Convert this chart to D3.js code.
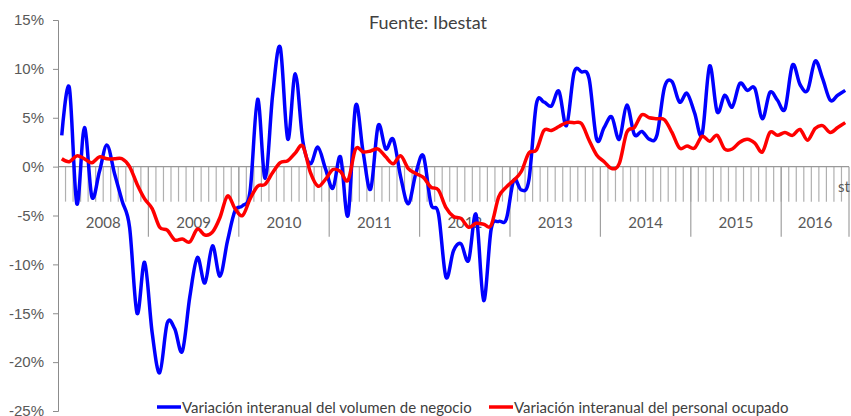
<!DOCTYPE html>
<html>
<head>
<meta charset="utf-8">
<script src="https://d3js.org/d3.v7.min.js"></script>
<style>
  body { margin: 0; background: #fff; }
  svg { font-family: Lato, 'Open Sans', sans-serif; }
  .axis text { fill: #595959; font-size: 15px; }
  .axis path, .axis line { stroke: #8c8c8c; }
</style>
</head>
<body>
<svg width="851" height="416"></svg>
<script>
// years shown on the category axis and how many months each one has
const years = ['2008', '2009', '2010', '2011', '2012', '2013', '2014', '2015', '2016'];
const monthsInYear = [12, 12, 12, 12, 12, 12, 12, 12, 9];

// Variación interanual del volumen de negocio (%)
const volumen = [
  3.2, 8.1, -3.8, 4.0, -3.1, -0.5, 2.2, -0.7, -3.5, -6.2, -15.0, -9.8,
  -17.0, -21.1, -16.0, -16.6, -18.9, -13.3, -9.3, -11.9, -8.1, -11.2, -7.6, -4.5,
  -4.0, -2.5, 6.9, -1.2, 7.4, 12.2, 2.8, 9.5, 2.6, 0.3, 2.0, -0.2,
  -2.2, 1.0, -5.0, 6.2, 1.5, -2.3, 4.2, 1.8, 2.8, -1.1, -3.8, -0.7,
  1.1, -3.8, -4.8, -11.3, -8.6, -7.9, -9.6, -4.9, -13.7, -6.4, -5.6, -5.4,
  -1.4, -2.4, -1.4, 6.4, 6.6, 6.2, 7.7, 4.2, 9.6, 9.7, 9.0, 2.8,
  4.0, 5.1, 2.8, 6.3, 3.3, 3.6, 2.8, 3.2, 8.1, 8.7, 6.6, 7.5,
  5.5, 3.3, 10.3, 5.6, 7.3, 6.1, 8.5, 7.8, 8.0, 4.9, 7.6, 6.8,
  5.9, 10.4, 8.4, 7.8, 10.8, 9.0, 6.8, 7.3, 7.8
];

// Variación interanual del personal ocupado (%)
const personal = [
  0.8, 0.5, 1.1, 0.8, 0.4, 1.0, 0.8, 0.8, 0.8, 0.0, -1.8, -3.3,
  -4.3, -6.2, -6.5, -7.5, -7.4, -7.7, -6.4, -7.0, -6.7, -5.2, -3.0, -4.3,
  -5.0, -3.3, -2.0, -1.8, -0.6, 0.4, 0.6, 1.4, 2.1, -0.6, -2.0, -1.3,
  -0.3, -0.5, -1.4, 1.8, 1.5, 1.6, 1.8, 1.0, 0.3, 1.1, -0.2, -0.7,
  -1.1, -2.1, -2.4, -4.2, -5.1, -5.3, -6.2, -5.8, -5.9, -6.0, -3.1, -2.1,
  -1.4, -0.5, 1.4, 1.7, 3.7, 3.7, 4.1, 4.5, 4.5, 4.4, 2.7, 1.2,
  0.5, -0.2, 0.3, 3.5, 4.0, 5.3, 5.0, 4.9, 4.8, 3.5, 1.9, 2.1,
  1.9, 3.1, 2.6, 3.2, 1.8, 1.8, 2.5, 2.8, 2.4, 1.5, 3.5, 3.2,
  3.5, 3.2, 3.8, 2.7, 3.9, 4.2, 3.5, 4.0, 4.5
];

const yTicks = [-25, -20, -15, -10, -5, 0, 5, 10, 15];
const seriesNames = ['Variación interanual del volumen de negocio', 'Variación interanual del personal ocupado'];
const seriesColors = ['#0000ff', '#ff0000'];

// one category per month
const months = [];
years.forEach(function (yr, k) {
  for (let m = 1; m <= monthsInYear[k]; m++) months.push(yr + '-' + m);
});

const svg = d3.select('svg');
const plotLeft = 58, plotRight = 849, plotTop = 20, plotBottom = 411;

const x = d3.scaleBand().domain(months).range([plotLeft, plotRight]);
const y = d3.scaleLinear().domain([-25, 15]).range([plotBottom, plotTop]);
const y0 = y(0);

// title
svg.append('text')
  .attr('x', 428).attr('y', 29)
  .attr('text-anchor', 'middle')
  .style('font-size', '18px').style('fill', '#404040')
  .text('Fuente: Ibestat');

// category axis on the zero line: month ticks and longer year ticks
const xg = svg.append('g').attr('class', 'xaxis');
months.forEach(function (m, i) {
  if (i === 0) return;
  xg.append('line')
    .attr('x1', x(m)).attr('x2', x(m))
    .attr('y1', y0).attr('y2', y0 + 35)
    .attr('stroke', '#b0b0b0').attr('stroke-width', 1.2);
});
let start = 0;
years.forEach(function (yr, k) {
  const x0 = x(months[start]);
  const end = start + monthsInYear[k];
  const x1 = end < months.length ? x(months[end]) : plotRight;
  xg.append('line')
    .attr('x1', x1).attr('x2', x1)
    .attr('y1', y0).attr('y2', y0 + 70)
    .attr('stroke', '#a0a0a0').attr('stroke-width', 1.2);
  xg.append('text')
    .attr('x', (x0 + x1) / 2).attr('y', y0 + 61)
    .attr('text-anchor', 'middle')
    .style('font-size', '15px').style('fill', '#595959')
    .text(yr);
  start = end;
});
xg.append('line')
  .attr('x1', plotLeft).attr('x2', plotRight)
  .attr('y1', y0).attr('y2', y0)
  .attr('stroke', '#999').attr('stroke-width', 1.2);
xg.append('text')
  .attr('x', 838).attr('y', 192)
  .style('font-size', '15px').style('fill', '#595959')
  .text('st');

// value axis
svg.append('g')
  .attr('class', 'axis')
  .attr('transform', 'translate(' + plotLeft + ',0)')
  .call(d3.axisLeft(y).tickValues(yTicks).tickFormat(d => d + '%').tickSize(5).tickPadding(9));

// lines
const line = d3.line()
  .x((d, i) => x(months[i]) + x.bandwidth() / 2)
  .y(d => y(d))
  .curve(d3.curveCardinal.tension(0));

[volumen, personal].forEach(function (s, k) {
  svg.append('path')
    .datum(s)
    .attr('fill', 'none')
    .attr('stroke', seriesColors[k])
    .attr('stroke-width', 3.5)
    .attr('stroke-linejoin', 'round')
    .attr('d', line);
});

// legend
const legendX = [157, 489];
seriesNames.forEach(function (name, k) {
  const g = svg.append('g').attr('transform', 'translate(' + legendX[k] + ',407)');
  g.append('line').attr('x1', 0).attr('x2', 24).attr('y1', 0).attr('y2', 0)
    .attr('stroke', seriesColors[k]).attr('stroke-width', 3.5);
  g.append('text').attr('x', 25).attr('y', 5.5)
    .style('font-size', '15px').style('fill', '#404040')
    .text(name);
});
</script>
</body>
</html>
